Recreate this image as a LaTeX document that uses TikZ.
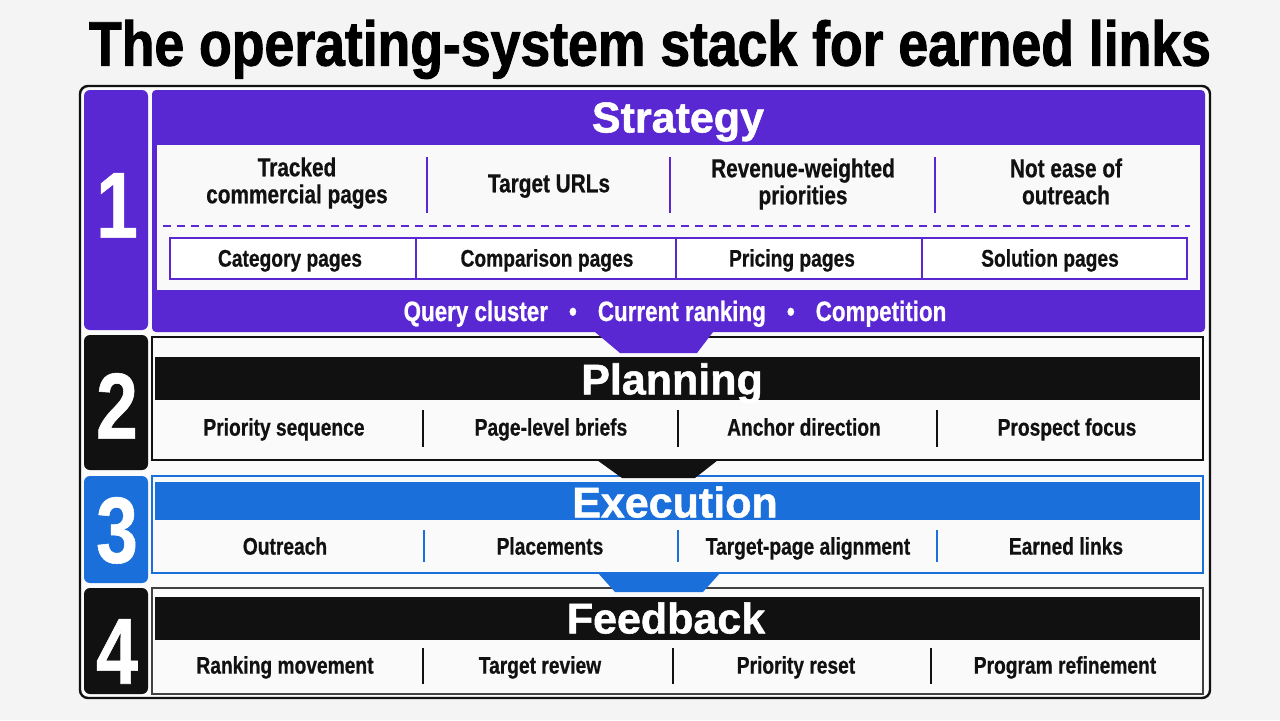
\documentclass[tikz,border=0pt]{standalone}
\usepackage{fontspec}
\setmainfont{Liberation Sans}
\newfontfamily\condfont[FakeStretch=0.8,FakeBold=0.6]{Liberation Sans}
\newfontfamily\titlefont[FakeStretch=0.85,FakeBold=1.5]{Liberation Sans}
\newfontfamily\headfont[FakeBold=1.2]{Liberation Sans}
\definecolor{stackpurple}{HTML}{5A28D2}
\definecolor{stackblue}{HTML}{1A6FDB}
\definecolor{stackblack}{HTML}{111111}
\definecolor{paper}{HTML}{F4F4F4}

\begin{document}
\begin{tikzpicture}[x=0.5pt,y=-0.5pt,
  lbl/.style={font=\condfont\bfseries\fontsize{12}{13}\selectfont, text=stackblack, align=center, text height=8.6pt, text depth=0pt},
  biglbl/.style={font=\condfont\bfseries\fontsize{13}{13.5}\selectfont, text=stackblack, align=center, text height=9.3pt, text depth=0pt},
  twolbl/.style={font=\condfont\bfseries\fontsize{13}{13.5}\selectfont, text=stackblack, align=center, anchor=north, inner sep=0pt},
  bandlbl/.style={font=\condfont\bfseries\fontsize{14}{15}\selectfont, text=white, text height=10pt, text depth=0pt},
  hdr/.style={font=\headfont\bfseries\fontsize{21.5}{24}\selectfont, text=white, text height=15.4pt, text depth=0pt},
  num/.style={font=\condfont\bfseries\fontsize{47}{50}\selectfont, text=white, text height=33.7pt, text depth=0pt}]
      \useasboundingbox [fill=paper] (0,0) rectangle (1280,720);
      \node (title) [font=\titlefont\bfseries\fontsize{31.5}{36}\selectfont, text height=22.6pt, text depth=0pt] at (650,43) {The operating-system stack for earned links};
      % frame and number tabs
      \draw [stackblack, line width=1.2pt, fill=white!60!paper, rounded corners=4pt] (80,86) rectangle (1210,698);
      \fill [stackpurple, rounded corners=3pt] (84,90) rectangle (148,330);
      \fill [stackblack, rounded corners=3pt] (84,335) rectangle (148,470);
      \fill [stackblue, rounded corners=3pt] (84,476) rectangle (148,583);
      \fill [stackblack, rounded corners=3pt] (84,588) rectangle (148,694);
      \node (n1) [num] at (117,204) {1};
      \node (n2) [num] at (117,405) {2};
      \node (n3) [num] at (117,529) {3};
      \node (n4) [num] at (117,650) {4};
      % strategy
      \fill [stackpurple, rounded corners=2pt] (152,90) rectangle (1205,332);
      \fill [white!50!paper] (157,145) rectangle (1200,290);
      \node (strat) [hdr] at (678,117) {Strategy};
      \draw [stackpurple, line width=0.8pt] (427,157) -- (427,213) (670,157) -- (670,213) (935,157) -- (935,213);
      \node (tracked) [twolbl] at (297,157) {Tracked\\commercial pages};
      \node (urls) [biglbl] at (549,183) {Target URLs};
      \node (revenue) [twolbl] at (803,158) {Revenue-weighted\\priorities};
      \node (notease) [twolbl] at (1066,158) {Not ease of\\outreach};
      \draw [stackpurple, line width=0.6pt, dash pattern=on 4pt off 3pt] (163,226) -- (1190,226);
      \draw [stackpurple, line width=0.7pt, fill=white] (170,238) rectangle (1187,279);
      \draw [stackpurple, line width=0.7pt] (416,238) -- (416,279) (676,238) -- (676,279) (922,238) -- (922,279);
      \node (category) [lbl] at (290,258) {Category pages};
      \node (comparison) [lbl] at (547,258) {Comparison pages};
      \node (pricing) [lbl] at (792,258) {Pricing pages};
      \node (solution) [lbl] at (1050,258) {Solution pages};
      \node (signals) [bandlbl] at (675,311) {Query cluster\hspace{0.75em}\textbullet\hspace{0.75em}Current ranking\hspace{0.75em}\textbullet\hspace{0.75em}Competition};
      % planning
      \draw [stackblack, line width=0.7pt, fill=white!50!paper] (152,337) rectangle (1203,460);
      \fill [stackblack] (155,357) rectangle (1200,400);
      \node (plan) [hdr] at (672,379) {Planning};
      \draw [stackblack, line width=0.8pt] (423,410) -- (423,447) (678,410) -- (678,447) (937,410) -- (937,447);
      \node (sequence) [lbl] at (284,427) {Priority sequence};
      \node (briefs) [lbl] at (551,427) {Page-level briefs};
      \node (anchor) [lbl] at (804,427) {Anchor direction};
      \node (prospect) [lbl] at (1067,427) {Prospect focus};
      % execution
      \draw [stackblue, line width=0.7pt, fill=white!50!paper] (152,476) rectangle (1203,573);
      \fill [stackblue] (155,482) rectangle (1200,520);
      \node (exec) [hdr] at (675,502) {Execution};
      \draw [stackblue, line width=0.8pt] (424,530) -- (424,562) (678,530) -- (678,562) (937,530) -- (937,562);
      \node (outreach) [lbl] at (285,546) {Outreach};
      \node (placements) [lbl] at (550,546) {Placements};
      \node (alignment) [lbl] at (808,546) {Target-page alignment};
      \node (earned) [lbl] at (1066,546) {Earned links};
      % feedback
      \draw [stackblack!80, line width=0.7pt, fill=white!50!paper] (152,588) rectangle (1203,694);
      \fill [stackblack] (155,597) rectangle (1200,640);
      \node (feed) [hdr] at (666,618) {Feedback};
      \draw [stackblack, line width=0.8pt] (423,648) -- (423,684) (673,648) -- (673,684) (931,648) -- (931,684);
      \node (movement) [lbl] at (285,665) {Ranking movement};
      \node (review) [lbl] at (540,665) {Target review};
      \node (reset) [lbl] at (796,665) {Priority reset};
      \node (refine) [lbl] at (1065,665) {Program refinement};
      % hand-off notches
      \fill [stackpurple] (595,332) -- (713,332) -- (697,353) -- (620,353) -- cycle;
      \fill [stackblack] (597,460) -- (718,460) -- (695,478) -- (622,478) -- cycle;
      \fill [stackblue] (598,573) -- (720,573) -- (703,592) -- (615,592) -- cycle;
    \end{tikzpicture}
\end{document}
